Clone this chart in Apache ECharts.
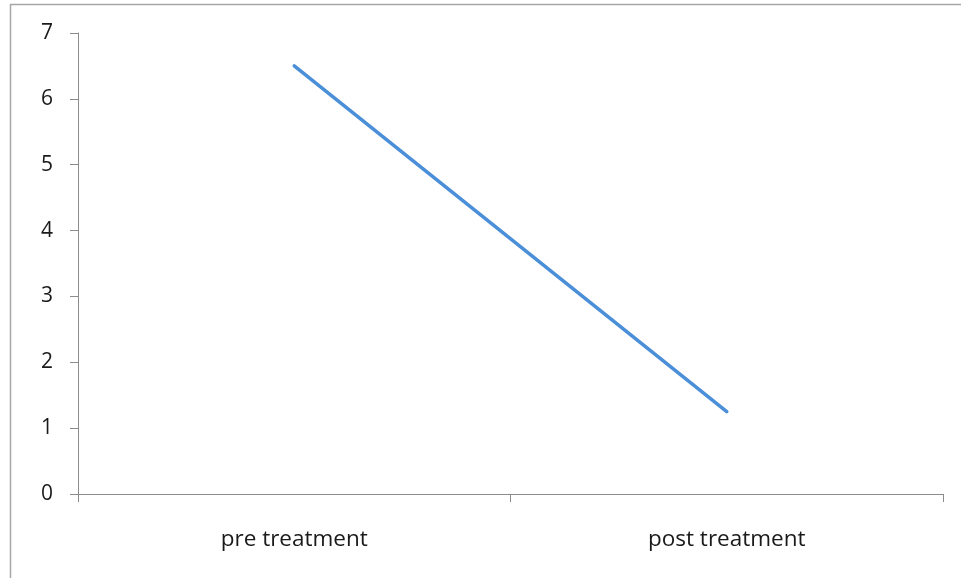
<!DOCTYPE html>
<html>
<head>
<meta charset="utf-8">
<script src="https://cdn.jsdelivr.net/npm/echarts@6/dist/echarts.min.js"></script>
<style>html,body{margin:0;padding:0;background:#fff}#c{width:961px;height:578px}</style>
</head>
<body>
<div id="c"></div>
<script>
const categories = ["pre treatment", "post treatment"];
const values = [6.5, 1.25];
const yTicks = { min: 0, max: 7, interval: 1 };

const chart = echarts.init(document.getElementById('c'), null, { renderer: 'canvas' });
const font = '"Open Sans", sans-serif';
chart.setOption({
  animation: false,
  backgroundColor: '#ffffff',
  graphic: [{
    type: 'rect', silent: true, z: 100,
    shape: { x: 10.5, y: 4.5, width: 1000, height: 700 },
    style: { fill: 'none', stroke: '#a6a6a6', lineWidth: 1.5 }
  }],
  grid: { left: 78, right: 18, top: 33, bottom: 84, containLabel: false },
  xAxis: {
    type: 'category', data: categories, boundaryGap: true,
    axisLine: { lineStyle: { color: '#8c8c8c', width: 1 } },
    axisTick: { show: true, length: 8, inside: false, lineStyle: { color: '#8c8c8c' } },
    axisLabel: { margin: 34, color: '#1a1a1a', fontSize: 22.5, fontFamily: font },
    splitLine: { show: false }
  },
  yAxis: {
    type: 'value', min: yTicks.min, max: yTicks.max, interval: yTicks.interval,
    axisLine: { show: true, lineStyle: { color: '#8c8c8c', width: 1 } },
    axisTick: { show: true, length: 8, lineStyle: { color: '#8c8c8c' } },
    axisLabel: { margin: 25, color: '#1a1a1a', fontSize: 21, fontFamily: font },
    splitLine: { show: false }
  },
  series: [{
    type: 'line', data: values, symbol: 'none',
    lineStyle: { color: '#4a8fd8', width: 3.5, cap: 'round' }
  }]
});
</script>
</body>
</html>
